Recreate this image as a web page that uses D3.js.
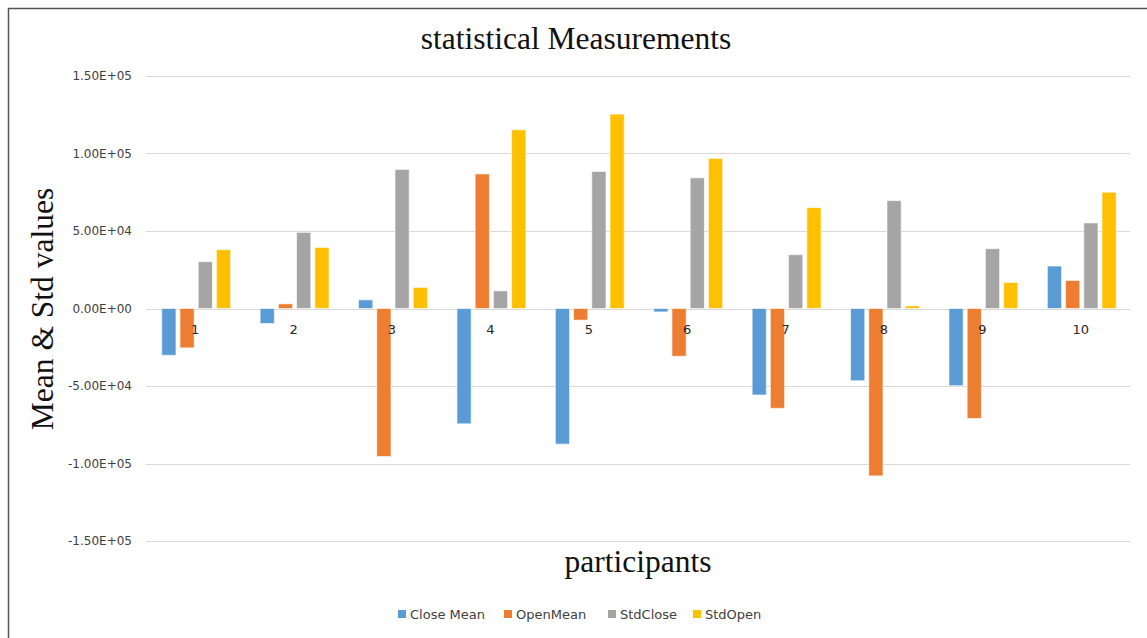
<!DOCTYPE html>
<html>
<head>
<meta charset="utf-8">
<script src="https://cdn.jsdelivr.net/npm/d3@7"></script>
<style>
  html, body { margin: 0; padding: 0; background: #fff; }
  svg { display: block; }
</style>
</head>
<body>
<div id="chart"></div>
<script>
// participants 1..10
const participants = ['1', '2', '3', '4', '5', '6', '7', '8', '9', '10']
const seriesNames = ['Close Mean', 'OpenMean', 'StdClose', 'StdOpen']
const closeMean = [-30200, -9700, 5600, -74400, -87500, -2200, -55800, -46600, -49800, 27400]
const openMean = [-25400, 3000, -95500, 86800, -7500, -30800, -64400, -108000, -70900, 18100]
const stdClose = [30200, 49100, 89700, 11400, 88400, 84300, 34700, 69600, 38600, 55200]
const stdOpen = [37950, 39400, 13600, 115300, 125400, 96800, 65100, 1700, 16800, 75000]
const yTicks = [150000, 100000, 50000, 0, -50000, -100000, -150000]
const colors = ['#5B9BD5', '#ED7D31', '#A5A5A5', '#FFC000']

const width = 1147, height = 638
const margin = {top: 76, right: 17, bottom: 97, left: 146}
const innerW = width - margin.left - margin.right,
  innerH = height - margin.top - margin.bottom

const svg = d3.select('#chart').append('svg')
  .attr('width', width)
  .attr('height', height)

// outer chart border (only top and left visible in the crop)
svg.append('rect')
  .attr('x', 8.5).attr('y', 8.5)
  .attr('width', width + 20).attr('height', height + 20)
  .attr('fill', 'none')
  .attr('stroke', '#555')
  .attr('stroke-width', 1.5)

const g = svg.append('g')
  .attr('transform', `translate(${margin.left}, ${margin.top})`)

const x0 = d3.scaleBand()
  .domain(participants)
  .range([0, innerW])
const x1 = d3.scaleBand()
  .domain(seriesNames)
  .range([x0.bandwidth() * 0.16, x0.bandwidth() * 0.86])
  .paddingInner(0.22)
const y = d3.scaleLinear()
  .domain([-150000, 150000])
  .range([innerH, 0])

// gridlines
g.append('g').selectAll('line').data(yTicks)
  .enter().append('line')
  .attr('x1', 0).attr('x2', innerW)
  .attr('y1', d => Math.round(y(d)) + 0.5)
  .attr('y2', d => Math.round(y(d)) + 0.5)
  .attr('stroke', '#d9d9d9')
  .attr('stroke-width', 1)

// y tick labels
const fmt = d => {
  const s = d3.format('.2e')(Math.abs(d)).toUpperCase()
  const [m, e] = s.split('E')
  const sign = e[0] === '-' ? '-' : '+'
  const exp = e.replace(/[+-]/, '').padStart(2, '0')
  return (d < 0 ? '-' : '') + m + 'E' + sign + exp
}
g.append('g').selectAll('text').data(yTicks)
  .enter().append('text')
  .text(fmt)
  .attr('x', -14)
  .attr('y', d => y(d))
  .attr('dy', '0.35em')
  .attr('fill', '#404040')
  .style('text-anchor', 'end')
  .style('font-family', 'DejaVu Sans, sans-serif')
  .style('font-size', '12px')

// bars
const data = participants.map((p, i) => ({
  p: p,
  vals: [closeMean[i], openMean[i], stdClose[i], stdOpen[i]]
}))
const groups = g.append('g').selectAll('.grp').data(data)
  .enter().append('g')
  .attr('transform', d => `translate(${x0(d.p)}, 0)`)
groups.selectAll('rect')
  .data(d => d.vals.map((v, k) => ({name: seriesNames[k], v: v, k: k})))
  .enter().append('rect')
  .attr('x', d => x1(d.name))
  .attr('width', x1.bandwidth())
  .attr('y', d => Math.min(y(d.v), y(0)))
  .attr('height', d => Math.abs(y(d.v) - y(0)))
  .attr('fill', d => colors[d.k])
  .attr('stroke', '#fff')
  .attr('stroke-opacity', 0.6)
  .attr('stroke-width', 1)

// category labels
g.append('g').selectAll('text').data(participants)
  .enter().append('text')
  .text(d => d)
  .attr('x', d => x0(d) + x0.bandwidth() / 2)
  .attr('y', y(0) + 25)
  .attr('fill', '#262626')
  .style('text-anchor', 'middle')
  .style('font-family', 'DejaVu Sans, sans-serif')
  .style('font-size', '13px')

// titles
svg.append('text')
  .text('statistical Measurements')
  .attr('x', 576).attr('y', 49)
  .style('text-anchor', 'middle')
  .style('font-family', 'Liberation Serif, serif')
  .style('font-size', '31.5px')
  .attr('fill', '#111')
svg.append('text')
  .text('participants')
  .attr('x', 638).attr('y', 572)
  .style('text-anchor', 'middle')
  .style('font-family', 'Liberation Serif, serif')
  .style('font-size', '31.5px')
  .attr('fill', '#111')
svg.append('text')
  .text('Mean & Std values')
  .attr('transform', 'translate(53, 309) rotate(-90)')
  .style('text-anchor', 'middle')
  .style('font-family', 'Liberation Serif, serif')
  .style('font-size', '31.5px')
  .attr('fill', '#111')

// legend
const legendX = [398, 504, 608, 693]
const legend = svg.append('g').selectAll('.lg').data(seriesNames)
  .enter().append('g')
  .attr('transform', (d, i) => `translate(${legendX[i]}, 614)`)
legend.append('rect')
  .attr('x', 0).attr('y', -4)
  .attr('width', 8).attr('height', 8)
  .attr('fill', (d, i) => colors[i])
legend.append('text')
  .text(d => d)
  .attr('x', 12).attr('y', 0)
  .attr('dy', '0.35em')
  .attr('fill', '#404040')
  .style('font-family', 'DejaVu Sans, sans-serif')
  .style('font-size', '13px')
</script>
</body>
</html>
